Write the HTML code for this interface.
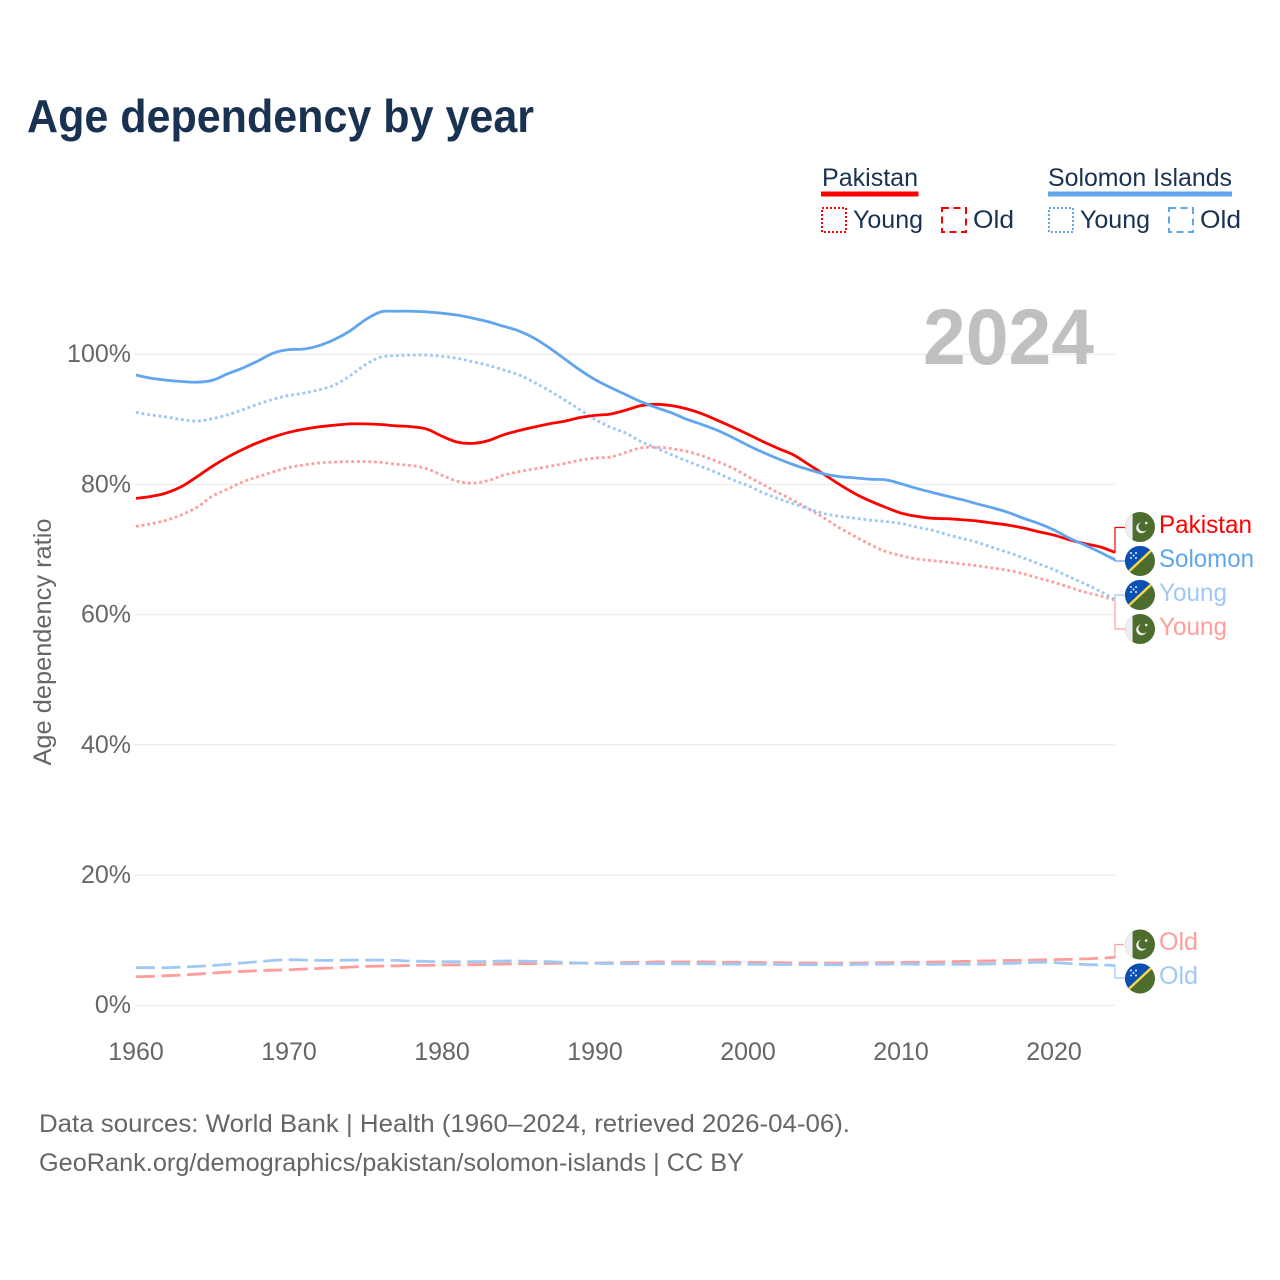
<!DOCTYPE html>
<html lang="en">
<head>
<meta charset="utf-8">
<title>Age dependency by year</title>
<style>
html,body{margin:0;padding:0;background:#fff;}
svg{display:block;}
text{font-family:"Liberation Sans",sans-serif;}
</style>
</head>
<body>
<svg id="chart" xmlns="http://www.w3.org/2000/svg" width="1280" height="1280" viewBox="0 0 1280 1280">
  <defs>
    <clipPath id="flag-clip"><circle cx="0" cy="0" r="15"/></clipPath>
    <symbol id="flag-pk" viewBox="-15.5 -15.5 31 31" width="31" height="31">
      <g clip-path="url(#flag-clip)">
        <rect x="-16" y="-16" width="32" height="32" fill="#4c6d2e"/>
        <rect x="-16" y="-16" width="8.6" height="32" fill="#eeeeee"/>
        <circle cx="1.6" cy="0.8" r="5.4" fill="#eeeeee"/>
        <circle cx="3.2" cy="-0.4" r="4.8" fill="#4c6d2e"/>
        <circle cx="6.2" cy="-4" r="1.3" fill="#eeeeee"/>
      </g>
    </symbol>
    <symbol id="flag-sb" viewBox="-15.5 -15.5 31 31" width="31" height="31">
      <g clip-path="url(#flag-clip)">
        <rect x="-16" y="-16" width="32" height="32" fill="#4c6d2e"/>
        <polygon points="-16,-16 16,-16 -16,16" fill="#0a50b4"/>
        <line x1="-16" y1="15" x2="16" y2="-15" stroke="#f5d94a" stroke-width="2.4"/>
        <circle cx="-9" cy="-8" r="1" fill="#e8eefa"/>
        <circle cx="-4" cy="-8" r="1" fill="#e8eefa"/>
        <circle cx="-6.5" cy="-5.5" r="1" fill="#e8eefa"/>
        <circle cx="-9" cy="-3" r="1" fill="#e8eefa"/>
        <circle cx="-4" cy="-3" r="1" fill="#e8eefa"/>
      </g>
    </symbol>
  </defs>

  <text x="27" y="132" font-size="46" font-weight="700" fill="#1a3252" textLength="507" lengthAdjust="spacingAndGlyphs">Age dependency by year</text>

  <g>
    <text x="822" y="186" font-size="25" fill="#1a3252" textLength="96" lengthAdjust="spacingAndGlyphs">Pakistan</text>
    <rect x="821" y="191.5" width="97.5" height="5" fill="#ff0000"/>
    <rect x="822" y="208" width="24" height="24" fill="none" stroke="#ff0000" stroke-width="2" stroke-dasharray="2 2"/>
    <text x="853" y="228" font-size="25" fill="#1a3252" textLength="70" lengthAdjust="spacingAndGlyphs">Young</text>
    <rect x="942" y="208" width="24" height="24" fill="none" stroke="#ff0000" stroke-width="2" stroke-dasharray="7 4.5"/>
    <text x="973" y="228" font-size="25" fill="#1a3252" textLength="41" lengthAdjust="spacingAndGlyphs">Old</text>

    <text x="1048" y="186" font-size="25" fill="#1a3252" textLength="184" lengthAdjust="spacingAndGlyphs">Solomon Islands</text>
    <rect x="1048" y="191.5" width="184" height="5" fill="#60a5ee"/>
    <rect x="1049" y="208" width="24" height="24" fill="none" stroke="#60a5ee" stroke-width="2" stroke-dasharray="2 2"/>
    <text x="1080" y="228" font-size="25" fill="#1a3252" textLength="70" lengthAdjust="spacingAndGlyphs">Young</text>
    <rect x="1169" y="208" width="24" height="24" fill="none" stroke="#60a5ee" stroke-width="2" stroke-dasharray="7 4.5"/>
    <text x="1200" y="228" font-size="25" fill="#1a3252" textLength="41" lengthAdjust="spacingAndGlyphs">Old</text>
  </g>

  <g id="grid"></g>
  <text x="923" y="364" font-size="79" font-weight="700" fill="#c0c0c0" textLength="171" lengthAdjust="spacingAndGlyphs">2024</text>
  <g id="y-ticks"></g>
  <g id="x-ticks"></g>
  <text transform="translate(51,642) rotate(-90)" text-anchor="middle" font-size="25" fill="#666666" textLength="247" lengthAdjust="spacingAndGlyphs">Age dependency ratio</text>

  <g id="series"></g>
  <g id="connectors"></g>

  <g>
    <use href="#flag-pk" x="1124.5" y="511.5"/>
    <text x="1159" y="533" font-size="25" fill="#ff0000" textLength="93" lengthAdjust="spacingAndGlyphs">Pakistan</text>
    <use href="#flag-sb" x="1124.5" y="545.5"/>
    <text x="1159" y="567" font-size="25" fill="#60a5ee" textLength="95" lengthAdjust="spacingAndGlyphs">Solomon</text>
    <use href="#flag-sb" x="1124.5" y="579.5"/>
    <text x="1159" y="601" font-size="25" fill="#a0c8f5" textLength="68" lengthAdjust="spacingAndGlyphs">Young</text>
    <use href="#flag-pk" x="1124.5" y="613.5"/>
    <text x="1159" y="635" font-size="25" fill="#ff9c9c" textLength="68" lengthAdjust="spacingAndGlyphs">Young</text>
    <use href="#flag-pk" x="1124.5" y="929"/>
    <text x="1159" y="950" font-size="25" fill="#ff9c9c" textLength="39" lengthAdjust="spacingAndGlyphs">Old</text>
    <use href="#flag-sb" x="1124.5" y="963"/>
    <text x="1159" y="984" font-size="25" fill="#a0c8f5" textLength="39" lengthAdjust="spacingAndGlyphs">Old</text>
  </g>

  <text x="39" y="1132" font-size="25" fill="#666666" textLength="811" lengthAdjust="spacingAndGlyphs">Data sources: World Bank | Health (1960–2024, retrieved 2026-04-06).</text>
  <text x="39" y="1171" font-size="25" fill="#666666" textLength="705" lengthAdjust="spacingAndGlyphs">GeoRank.org/demographics/pakistan/solomon-islands | CC BY</text>
</svg>

<script>
const firstYear = 1960;
const xTickYears = [1960, 1970, 1980, 1990, 2000, 2010, 2020];
const yTickValues = [0, 20, 40, 60, 80, 100];

const solomonTotal = [96.8,96.3,96.0,95.8,95.7,96.0,97.0,97.9,99.0,100.2,
  100.7,100.8,101.35,102.3,103.6,105.3,106.5,106.6,106.6,106.5,
  106.3,106.0,105.55,105.0,104.3,103.6,102.5,101,99.3,97.6,
  96.1,94.9,93.8,92.7,91.8,91.0,90.0,89.2,88.3,87.2,
  86.0,84.9,83.9,83.0,82.25,81.6,81.2,81.0,80.8,80.7,
  80.1,79.4,78.8,78.2,77.65,77,76.4,75.7,74.8,74,
  73,71.75,70.7,69.6,68.4];
const solomonYoung = [91.06,90.65,90.35,89.95,89.73,90.1,90.7,91.5,92.35,93.1,
  93.67,94.03,94.55,95.3,96.7,98.4,99.56,99.77,99.87,99.87,
  99.67,99.36,98.85,98.3,97.6,96.85,95.7,94.4,93,91.5,
  90.0,88.8,87.9,86.6,85.6,84.56,83.6,82.7,81.75,80.7,
  79.8,78.7,77.8,77,76.2,75.5,75.1,74.8,74.5,74.3,
  74,73.45,73,72.3,71.7,71.1,70.3,69.55,68.7,67.8,
  66.9,65.8,64.75,63.6,62.3];
const solomonOld = [5.76,5.76,5.76,5.86,5.96,6.1,6.27,6.5,6.68,6.88,
  6.99,6.93,6.88,6.88,6.93,6.93,6.93,6.88,6.78,6.73,
  6.68,6.68,6.68,6.73,6.78,6.78,6.73,6.68,6.58,6.47,
  6.42,6.4,6.38,6.37,6.37,6.36,6.35,6.35,6.33,6.32,
  6.3,6.28,6.26,6.24,6.22,6.22,6.22,6.25,6.28,6.3,
  6.32,6.3,6.28,6.27,6.27,6.3,6.35,6.42,6.5,6.6,
  6.55,6.4,6.25,6.18,6.1];
const pakistanTotal = [77.85,78.16,78.7,79.7,81.2,82.8,84.2,85.4,86.45,87.3,
  88.0,88.5,88.86,89.1,89.3,89.3,89.2,89,88.86,88.5,
  87.4,86.5,86.3,86.7,87.6,88.25,88.8,89.3,89.7,90.25,
  90.6,90.8,91.4,92.1,92.3,92.1,91.6,90.85,89.85,88.8,
  87.7,86.55,85.5,84.5,83,81.5,79.95,78.57,77.44,76.47,
  75.6,75.1,74.8,74.73,74.57,74.37,74.06,73.75,73.3,72.73,
  72.2,71.5,70.9,70.4,69.55];
const pakistanYoung = [73.55,73.96,74.5,75.35,76.5,78.2,79.3,80.4,81.2,81.95,
  82.6,83,83.3,83.43,83.5,83.5,83.4,83.1,82.9,82.4,
  81.4,80.5,80.2,80.57,81.4,81.95,82.35,82.77,83.2,83.7,
  84.05,84.2,84.9,85.6,85.7,85.5,85.07,84.4,83.5,82.5,
  81.2,79.95,78.7,77.5,76.2,74.8,73.3,72,70.75,69.7,
  69.05,68.55,68.3,68.07,67.77,67.5,67.15,66.8,66.28,65.6,
  64.95,64.2,63.46,62.9,62.2];
const pakistanOld = [4.37,4.43,4.53,4.63,4.78,4.94,5.09,5.2,5.3,5.38,
  5.45,5.55,5.65,5.75,5.85,5.96,6.0,6.05,6.1,6.13,
  6.17,6.2,6.22,6.27,6.32,6.37,6.4,6.42,6.45,6.46,
  6.47,6.5,6.55,6.6,6.63,6.65,6.65,6.65,6.63,6.6,
  6.58,6.55,6.53,6.5,6.48,6.47,6.47,6.48,6.5,6.53,
  6.58,6.6,6.63,6.67,6.72,6.78,6.82,6.87,6.9,6.95,
  7.0,7.05,7.12,7.22,7.35];

const NS = 'http://www.w3.org/2000/svg';
function xScale(year) { return 136 + (year - 1960) * 15.3; }
function yScale(value) { return 1005.2 - value * 6.51; }
function make(tag, attrs, parent) {
  const el = document.createElementNS(NS, tag);
  for (const k in attrs) el.setAttribute(k, attrs[k]);
  parent.appendChild(el);
  return el;
}
function linePath(values) {
  const px = values.map(function (v, i) { return xScale(firstYear + i); });
  const py = values.map(function (v) { return yScale(v); });
  let d = 'M' + px[0].toFixed(2) + ' ' + py[0].toFixed(2);
  for (let i = 0; i < values.length - 1; i++) {
    const a = Math.max(i - 1, 0);
    const b = Math.min(i + 2, values.length - 1);
    const c1x = px[i] + (px[i + 1] - px[a]) / 6;
    const c1y = py[i] + (py[i + 1] - py[a]) / 6;
    const c2x = px[i + 1] - (px[b] - px[i]) / 6;
    const c2y = py[i + 1] - (py[b] - py[i]) / 6;
    d += ' C' + c1x.toFixed(2) + ' ' + c1y.toFixed(2) + ' ' + c2x.toFixed(2) + ' ' + c2y.toFixed(2) + ' ' + px[i + 1].toFixed(2) + ' ' + py[i + 1].toFixed(2);
  }
  return d;
}

const gridG = document.getElementById('grid');
const yTickG = document.getElementById('y-ticks');
yTickValues.forEach(function (v) {
  const ln = make('line', {x1: 135, x2: 1115, y1: yScale(v), y2: yScale(v), stroke: '#e8e8e8', 'stroke-width': 1}, gridG);
  
  
  const t = make('text', {x: 131, y: yScale(v) + 8, 'text-anchor': 'end', 'font-size': 25, fill: '#666666'}, yTickG);
  t.textContent = v + '%';
  
  
});

const xTickG = document.getElementById('x-ticks');
xTickYears.forEach(function (y) {
  const t = make('text', {x: xScale(y), y: 1060, 'text-anchor': 'middle', 'font-size': 25, fill: '#666666'}, xTickG);
  t.textContent = String(y);
  
  
});

const seriesG = document.getElementById('series');
function drawSeries(values, name, color, dash) {
  const attrs = {d: linePath(values), fill: 'none', stroke: color, 'stroke-width': 2.8, 'stroke-linejoin': 'round'};
  if (dash) attrs['stroke-dasharray'] = dash;
  const p = make('path', attrs, seriesG);
  
  
}
drawSeries(pakistanOld, 'line-pakistan-old', '#ff9c9c', '19 6.5');
drawSeries(solomonOld, 'line-solomon-old', '#a0c8f5', '19 6.5');
drawSeries(pakistanYoung, 'line-pakistan-young', '#ff9c9c', '2.8 2.9');
drawSeries(solomonYoung, 'line-solomon-young', '#9cc6f5', '2.8 2.9');
drawSeries(pakistanTotal, 'line-pakistan-total', '#ff0000', '');
drawSeries(solomonTotal, 'line-solomon-total', '#60a5ee', '');

const connG = document.getElementById('connectors');
function drawConnector(values, labelY, endX, name, color) {
  const last = yScale(values[values.length - 1]);
  const p = make('path', {d: 'M1115 ' + last.toFixed(2) + ' V' + labelY + ' H' + endX, fill: 'none', stroke: color, 'stroke-width': 1.2}, connG);
  
  
}
drawConnector(pakistanTotal, 527.5, 1126, 'connector-pakistan-total', '#ff0000');
drawConnector(solomonTotal, 561, 1126, 'connector-solomon-total', '#60a5ee');
drawConnector(solomonYoung, 595, 1126, 'connector-solomon-young', '#a0c8f5');
drawConnector(pakistanYoung, 629, 1126, 'connector-pakistan-young', '#ff9c9c');
drawConnector(pakistanOld, 944.5, 1124, 'connector-pakistan-old', '#ff9c9c');
drawConnector(solomonOld, 978, 1126, 'connector-solomon-old', '#a0c8f5');
</script>
</body>
</html>
